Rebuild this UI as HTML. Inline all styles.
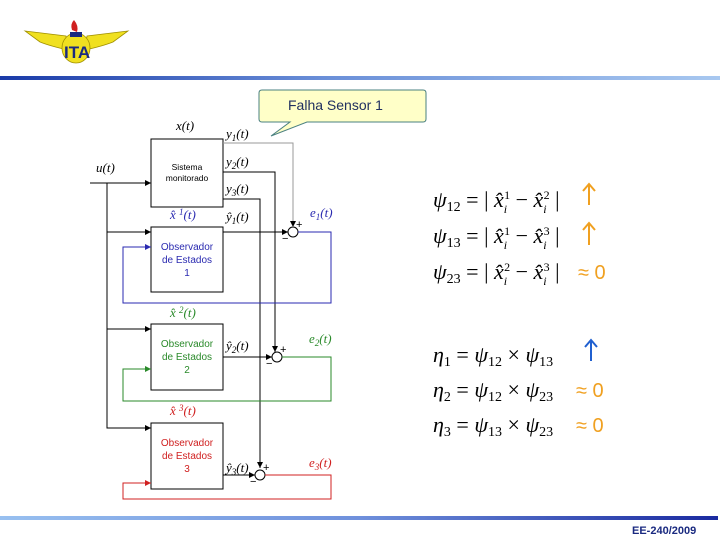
<!DOCTYPE html>
<html><head><meta charset="utf-8"><style>
html,body{margin:0;padding:0;background:#fff;}
svg{display:block;}
.m{font-family:"Liberation Serif",serif;font-style:italic;}
.s{font-family:"Liberation Sans",sans-serif;}
</style></head><body>
<svg width="720" height="540" viewBox="0 0 720 540" xmlns="http://www.w3.org/2000/svg">
<defs>
<linearGradient id="tb" x1="0" x2="1"><stop offset="0" stop-color="#1a3aa8"/><stop offset="0.45" stop-color="#6a8fd8"/><stop offset="1" stop-color="#a8c8f0"/></linearGradient>
<linearGradient id="bb" x1="0" x2="1"><stop offset="0" stop-color="#98c0f0"/><stop offset="0.5" stop-color="#6f90dc"/><stop offset="1" stop-color="#1a2aa0"/></linearGradient>
<marker id="ak" markerWidth="6" markerHeight="6" refX="6" refY="3" orient="auto" markerUnits="userSpaceOnUse"><path d="M0,0L6,3L0,6z" fill="#000"/></marker>
<marker id="ab" markerWidth="6" markerHeight="6" refX="6" refY="3" orient="auto" markerUnits="userSpaceOnUse"><path d="M0,0L6,3L0,6z" fill="#2a2ab0"/></marker>
<marker id="ag" markerWidth="6" markerHeight="6" refX="6" refY="3" orient="auto" markerUnits="userSpaceOnUse"><path d="M0,0L6,3L0,6z" fill="#2a8a2a"/></marker>
<marker id="ar" markerWidth="6" markerHeight="6" refX="6" refY="3" orient="auto" markerUnits="userSpaceOnUse"><path d="M0,0L6,3L0,6z" fill="#d02020"/></marker>
</defs>
<!-- logo -->
<path d="M25,31 L66,36 L68,50 Q50,46 40,42 Z" fill="#f0e020" stroke="#a09000" stroke-width="0.8"/>
<path d="M128,31 L87,36 L85,50 Q103,46 113,42 Z" fill="#f0e020" stroke="#a09000" stroke-width="0.8"/>
<ellipse cx="76" cy="48" rx="14" ry="15" fill="#f0e020" stroke="#a09000" stroke-width="0.8"/>
<path d="M72,30 Q70,24 74,20 Q79,26 77,32 Z" fill="#d02020"/>
<rect x="70" y="32" width="12" height="5" fill="#1a2a80"/>
<text x="64" y="58" class="s" font-size="17" font-weight="bold" fill="#1a2a80">ITA</text>
<!-- bars -->
<rect x="0" y="76" width="720" height="4" fill="url(#tb)"/>
<rect x="0" y="516" width="718" height="4" fill="url(#bb)"/>
<text x="632" y="534" class="s" font-size="11" font-weight="bold" fill="#1a2a80">EE-240/2009</text>
<!-- callout -->
<path d="M262,90 H423 Q426,90 426,93 V119 Q426,122 423,122 H307 L271,136 L290,122 H262 Q259,122 259,119 V93 Q259,90 262,90 Z" fill="#ffffc8" stroke="#4a8080" stroke-width="1"/>
<text x="288" y="110" class="s" font-size="14" fill="#203060">Falha Sensor 1</text>
<!-- boxes -->
<g fill="#fff" stroke="#000" stroke-width="1">
<rect x="151" y="139" width="72" height="68"/>
<rect x="151" y="227" width="72" height="65"/>
<rect x="151" y="324" width="72" height="66"/>
<rect x="151" y="423" width="72" height="66"/>
</g>
<text class="s" font-size="8.5" text-anchor="middle"><tspan x="187" y="170">Sistema</tspan><tspan x="187" y="181">monitorado</tspan></text>
<text class="s" font-size="10" text-anchor="middle" fill="#2a2ab0"><tspan x="187" y="250">Observador</tspan><tspan x="187" y="263">de Estados</tspan><tspan x="187" y="276">1</tspan></text>
<text class="s" font-size="10" text-anchor="middle" fill="#2a8a2a"><tspan x="187" y="347">Observador</tspan><tspan x="187" y="360">de Estados</tspan><tspan x="187" y="373">2</tspan></text>
<text class="s" font-size="10" text-anchor="middle" fill="#d02020"><tspan x="187" y="446">Observador</tspan><tspan x="187" y="459">de Estados</tspan><tspan x="187" y="472">3</tspan></text>
<!-- inputs -->
<g stroke="#000" stroke-width="1" fill="none">
<line x1="90" y1="183" x2="151" y2="183" marker-end="url(#ak)"/>
<polyline points="107,183 107,428 151,428" marker-end="url(#ak)"/>
<line x1="107" y1="232" x2="151" y2="232" marker-end="url(#ak)"/>
<line x1="107" y1="329" x2="151" y2="329" marker-end="url(#ak)"/>
<polyline points="223,172 275,172 275,352" marker-end="url(#ak)"/>
<polyline points="223,199 260,199 260,468" marker-end="url(#ak)"/>
<line x1="223" y1="232" x2="288" y2="232" marker-end="url(#ak)"/>
<line x1="223" y1="357" x2="272" y2="357" marker-end="url(#ak)"/>
<line x1="223" y1="475" x2="255" y2="475" marker-end="url(#ak)"/>
<circle cx="293" cy="232" r="5"/>
<circle cx="277" cy="357" r="5"/>
<circle cx="260" cy="475" r="5"/>
</g>
<polyline points="223,143 293,143 293,227" stroke="#999" fill="none" stroke-width="1" marker-end="url(#ak)"/>
<polyline points="298,232 331,232 331,303 123,303 123,247 151,247" stroke="#2a2ab0" fill="none" stroke-width="1" marker-end="url(#ab)"/>
<polyline points="282,357 331,357 331,401 123,401 123,369 151,369" stroke="#2a8a2a" fill="none" stroke-width="1" marker-end="url(#ag)"/>
<polyline points="265,475 331,475 331,499 123,499 123,483 151,483" stroke="#d02020" fill="none" stroke-width="1" marker-end="url(#ar)"/>
<g class="s" font-size="11">
<text x="296" y="228">+</text><text x="282" y="242">−</text>
<text x="280" y="353">+</text><text x="266" y="367">−</text>
<text x="263" y="471">+</text><text x="250" y="485">−</text>
</g>
<!-- labels -->
<g class="m" font-size="13">
<text x="176" y="130">x(t)</text>
<text x="96" y="172">u(t)</text>
<text x="226" y="138">y<tspan font-size="9" dy="3">1</tspan><tspan dy="-3">(t)</tspan></text>
<text x="226" y="166">y<tspan font-size="9" dy="3">2</tspan><tspan dy="-3">(t)</tspan></text>
<text x="226" y="193">y<tspan font-size="9" dy="3">3</tspan><tspan dy="-3">(t)</tspan></text>
<text x="226" y="221">ŷ<tspan font-size="9" dy="3">1</tspan><tspan dy="-3">(t)</tspan></text>
<text x="226" y="350">ŷ<tspan font-size="9" dy="3">2</tspan><tspan dy="-3">(t)</tspan></text>
<text x="226" y="472">ŷ<tspan font-size="9" dy="3">3</tspan><tspan dy="-3">(t)</tspan></text>
<text x="170" y="219" fill="#2a2ab0">x̂ <tspan font-size="9" dy="-4">1</tspan><tspan dy="4">(t)</tspan></text>
<text x="170" y="317" fill="#2a8a2a">x̂ <tspan font-size="9" dy="-4">2</tspan><tspan dy="4">(t)</tspan></text>
<text x="170" y="415" fill="#d02020">x̂ <tspan font-size="9" dy="-4">3</tspan><tspan dy="4">(t)</tspan></text>
<text x="310" y="217" fill="#2a2ab0">e<tspan font-size="9" dy="3">1</tspan><tspan dy="-3">(t)</tspan></text>
<text x="309" y="343" fill="#2a8a2a">e<tspan font-size="9" dy="3">2</tspan><tspan dy="-3">(t)</tspan></text>
<text x="309" y="467" fill="#d02020">e<tspan font-size="9" dy="3">3</tspan><tspan dy="-3">(t)</tspan></text>
</g>
<!-- equations -->
<g class="m" font-size="22">
<text x="433" y="207">ψ<tspan font-style="normal" font-size="14" dy="4">12</tspan><tspan font-style="normal" dy="-4"> = | </tspan>x̂<tspan font-size="12" dy="6">i</tspan><tspan font-size="12" font-style="normal" dx="-3" dy="-14">1</tspan><tspan font-style="normal" dy="8"> − </tspan>x̂<tspan font-size="12" dy="6">i</tspan><tspan font-size="12" font-style="normal" dx="-3" dy="-14">2</tspan><tspan font-style="normal" dy="8"> |</tspan></text>
<text x="433" y="243">ψ<tspan font-style="normal" font-size="14" dy="4">13</tspan><tspan font-style="normal" dy="-4"> = | </tspan>x̂<tspan font-size="12" dy="6">i</tspan><tspan font-size="12" font-style="normal" dx="-3" dy="-14">1</tspan><tspan font-style="normal" dy="8"> − </tspan>x̂<tspan font-size="12" dy="6">i</tspan><tspan font-size="12" font-style="normal" dx="-3" dy="-14">3</tspan><tspan font-style="normal" dy="8"> |</tspan></text>
<text x="433" y="279">ψ<tspan font-style="normal" font-size="14" dy="4">23</tspan><tspan font-style="normal" dy="-4"> = | </tspan>x̂<tspan font-size="12" dy="6">i</tspan><tspan font-size="12" font-style="normal" dx="-3" dy="-14">2</tspan><tspan font-style="normal" dy="8"> − </tspan>x̂<tspan font-size="12" dy="6">i</tspan><tspan font-size="12" font-style="normal" dx="-3" dy="-14">3</tspan><tspan font-style="normal" dy="8"> |</tspan></text>
<text x="433" y="362">η<tspan font-style="normal" font-size="14" dy="4">1</tspan><tspan font-style="normal" dy="-4"> = </tspan>ψ<tspan font-style="normal" font-size="14" dy="4">12</tspan><tspan font-style="normal" dy="-4"> × </tspan>ψ<tspan font-style="normal" font-size="14" dy="4">13</tspan></text>
<text x="433" y="397">η<tspan font-style="normal" font-size="14" dy="4">2</tspan><tspan font-style="normal" dy="-4"> = </tspan>ψ<tspan font-style="normal" font-size="14" dy="4">12</tspan><tspan font-style="normal" dy="-4"> × </tspan>ψ<tspan font-style="normal" font-size="14" dy="4">23</tspan></text>
<text x="433" y="432">η<tspan font-style="normal" font-size="14" dy="4">3</tspan><tspan font-style="normal" dy="-4"> = </tspan>ψ<tspan font-style="normal" font-size="14" dy="4">13</tspan><tspan font-style="normal" dy="-4"> × </tspan>ψ<tspan font-style="normal" font-size="14" dy="4">23</tspan></text>
</g>
<g stroke="#f0a020" stroke-width="2" fill="none">
<path d="M589,205 V184 M583,191 L589,184 L595,191"/>
<path d="M589,245 V223 M583,230 L589,223 L595,230"/>
</g>
<path d="M591,361 V340 M585,347 L591,340 L597,347" stroke="#2060d0" stroke-width="2" fill="none"/>
<g class="s" font-size="20" fill="#f0a020">
<text x="578" y="279">≈ 0</text>
<text x="576" y="397">≈ 0</text>
<text x="576" y="432">≈ 0</text>
</g>
</svg>
</body></html>
